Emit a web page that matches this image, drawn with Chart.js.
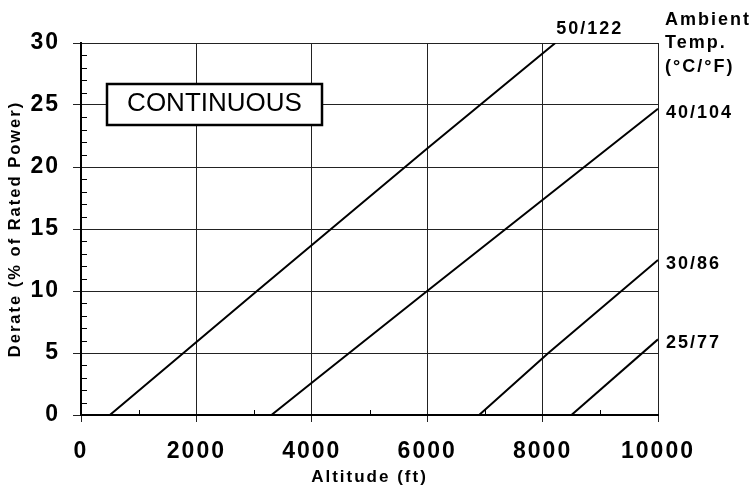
<!DOCTYPE html>
<html>
<head>
<meta charset="utf-8">
<script src="https://cdn.jsdelivr.net/npm/chart.js@4"></script>
<style>
html, body { margin: 0; padding: 0; background: #fff; }
#wrap { width: 756px; height: 492px; position: relative; }
</style>
</head>
<body>
<div id="wrap"><canvas id="chart"></canvas></div>
<script>
// derate curves: altitude (ft) vs derate (%)
const temps = ['50/122', '40/104', '30/86', '25/77'];
const alt50 = [500, 3050, 6000, 8220];
const der50 = [0, 10, 21.5, 30];
const alt40 = [3300, 4000, 6000, 10000];
const der40 = [0, 2.6, 10, 24.7];
const alt30 = [6900, 8100, 10000];
const der30 = [0, 5, 12.5];
const alt25 = [8500, 10000];
const der25 = [0, 6.1];
const xTicks = [0, 2000, 4000, 6000, 8000, 10000];
const yTicks = [0, 5, 10, 15, 20, 25, 30];

Chart.defaults.font.family = '"Liberation Sans", Arial, sans-serif';
Chart.defaults.color = '#000';

function toPoints(xs, ys) {
    return xs.map((v, i) => ({ x: v, y: ys[i] }));
}

const series = [
    toPoints(alt50, der50),
    toPoints(alt40, der40),
    toPoints(alt30, der30),
    toPoints(alt25, der25)
];

// minor ticks, note box and curve labels
const decor = {
    id: 'decor',
    beforeDraw(chart) {
        chart.ctx.letterSpacing = '2px';
    },
    afterDraw(chart) {
        const { ctx, chartArea: a } = chart;
        const x = chart.scales.x, y = chart.scales.y;
        ctx.save();
        ctx.strokeStyle = '#000';
        ctx.lineWidth = 1;
        ctx.beginPath();
        for (let v = 1; v < 30; v++) {
            if (v % 5 === 0) continue;
            const py = Math.round(y.getPixelForValue(v)) + 0.5;
            ctx.moveTo(a.left, py);
            ctx.lineTo(a.left + 6, py);
        }
        for (let v = 1000; v < 10000; v += 2000) {
            const px = Math.round(x.getPixelForValue(v)) + 0.5;
            ctx.moveTo(px, a.bottom);
            ctx.lineTo(px, a.bottom - 5);
        }
        ctx.stroke();

        // CONTINUOUS box
        ctx.fillStyle = '#fff';
        ctx.fillRect(107, 84, 215, 41);
        ctx.lineWidth = 2.5;
        ctx.strokeRect(107, 84, 215, 41);
        ctx.fillStyle = '#000';
        ctx.letterSpacing = '0px';
        ctx.font = '26px "Liberation Sans", Arial, sans-serif';
        ctx.textAlign = 'center';
        ctx.textBaseline = 'alphabetic';
        ctx.fillText('CONTINUOUS', 214.5, 111);

        // legend heading
        ctx.textAlign = 'left';
        ctx.letterSpacing = '2px';
        ctx.font = 'bold 18px "Liberation Sans", Arial, sans-serif';
        ctx.fillText('Ambient', 665, 25);
        ctx.fillText('Temp.', 665, 48);
        ctx.fillText('(°C/°F)', 665, 72);

        // curve labels next to line ends
        ctx.font = 'bold 18px "Liberation Sans", Arial, sans-serif';
        series.forEach((pts, i) => {
            const last = pts[pts.length - 1];
            const px = x.getPixelForValue(last.x);
            const py = y.getPixelForValue(last.y);
            if (last.y >= 30) {
                ctx.fillText(temps[i], px + 1, a.top - 9);
            } else {
                ctx.fillText(temps[i], a.right + 8, py + 9);
            }
        });
        ctx.restore();
    }
};

const gridStyle = { color: '#222', lineWidth: 1 };

new Chart(document.getElementById('chart'), {
    type: 'scatter',
    data: {
        datasets: series.map((pts, i) => ({
            label: temps[i],
            data: pts,
            showLine: true,
            borderColor: '#000',
            borderWidth: 2,
            pointRadius: 0,
            fill: false
        }))
    },
    options: {
        responsive: true,
        maintainAspectRatio: false,
        animation: false,
        layout: { padding: { top: 43, right: 98, left: 0, bottom: 0 } },
        plugins: { legend: { display: false }, tooltip: { enabled: false } },
        scales: {
            x: {
                type: 'linear',
                min: 0,
                max: 10000,
                afterBuildTicks: s => { s.ticks = xTicks.map(v => ({ value: v })); },
                afterFit: s => { s.height = 77; s.paddingLeft = 0; s.paddingRight = 0; },
                grid: { ...gridStyle, tickLength: 7 },
                border: { display: true, width: 2, color: '#000' },
                ticks: {
                    autoSkip: false,
                    maxRotation: 0,
                    padding: 16,
                    font: { size: 23, weight: 'bold' },
                    callback: v => String(v)
                },
                title: {
                    display: true,
                    text: 'Altitude (ft)',
                    font: { size: 17, weight: 'bold' },
                    padding: { top: 0, bottom: 4 }
                }
            },
            y: {
                min: 0,
                max: 30,
                afterBuildTicks: s => { s.ticks = yTicks.map(v => ({ value: v })); },
                afterFit: s => { s.width = 81; s.paddingTop = 0; s.paddingBottom = 0; },
                grid: { ...gridStyle, tickLength: 8 },
                border: { display: true, width: 2, color: '#000' },
                ticks: {
                    padding: 13,
                    font: { size: 23, weight: 'bold' }
                },
                title: {
                    display: true,
                    text: 'Derate (% of Rated Power)',
                    font: { size: 16.5, weight: 'bold' },
                    padding: { top: 6, bottom: 0 }
                }
            }
        }
    },
    plugins: [decor]
});
</script>
</body>
</html>
